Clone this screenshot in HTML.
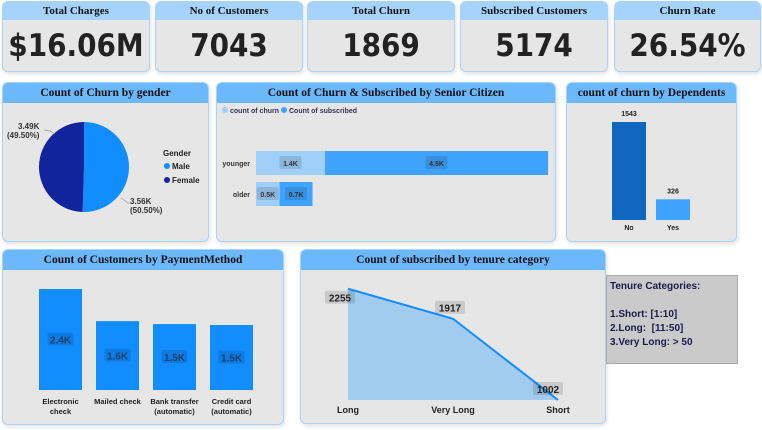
<!DOCTYPE html>
<html><head><meta charset="utf-8"><style>
body{margin:0;width:762px;height:430px;background:#fff;overflow:hidden;font-family:"Liberation Sans",sans-serif}
.card{position:absolute;background:#e6e6e6;border:1px solid #a9d3f9;border-radius:6px;box-sizing:border-box;overflow:hidden;box-shadow:1px 2px 4px rgba(0,0,0,.12)}
.kh{background:#a6d3fb;height:18px;text-align:center;font:bold 11px "Liberation Serif",serif;color:#111;line-height:18px}
.kv{text-align:center;font:bold 31px "DejaVu Sans Condensed","DejaVu Sans",sans-serif;color:#222;line-height:52px}
.ph{background:#6bb8fc;height:20px;text-align:center;font:bold 11.5px "Liberation Serif",serif;color:#111;line-height:20px}
svg text{font-family:"Liberation Sans",sans-serif}
</style></head><body>
<div class="card" style="left:2px;top:1px;width:148px;height:71px"><div class="kh">Total Charges</div><div class="kv">$16.06M</div></div>
<div class="card" style="left:155px;top:1px;width:148px;height:71px"><div class="kh">No of Customers</div><div class="kv">7043</div></div>
<div class="card" style="left:307px;top:1px;width:148px;height:71px"><div class="kh">Total Churn</div><div class="kv">1869</div></div>
<div class="card" style="left:460px;top:1px;width:148px;height:71px"><div class="kh">Subscribed Customers</div><div class="kv">5174</div></div>
<div class="card" style="left:614px;top:1px;width:147px;height:71px"><div class="kh">Churn Rate</div><div class="kv">26.54%</div></div>

<div class="card" style="left:2px;top:82px;width:207px;height:160px"><div class="ph">Count of Churn by gender</div></div>
<div class="card" style="left:216px;top:82px;width:340px;height:160px"><div class="ph">Count of Churn &amp; Subscribed by Senior Citizen</div></div>
<div class="card" style="left:566px;top:82px;width:171px;height:160px"><div class="ph">count of churn by Dependents</div></div>
<div class="card" style="left:2px;top:249px;width:282px;height:176px"><div class="ph">Count of Customers by PaymentMethod</div></div>
<div class="card" style="left:300px;top:249px;width:306px;height:175px"><div class="ph">Count of subscribed by tenure category</div></div>
<div style="position:absolute;left:606px;top:275px;width:132px;height:89px;background:#cacaca;border:1px solid #aaa;box-sizing:border-box;padding:4px 3px;font:bold 10px 'Liberation Sans',sans-serif;color:#1a1a4a;line-height:14px">Tenure Categories:<br><br>1.Short: [1:10]<br>2.Long:&nbsp; [11:50]<br>3.Very Long: &gt; 50</div>

<svg id="s" width="762" height="430" style="position:absolute;left:0;top:0" xmlns="http://www.w3.org/2000/svg"></svg>
<script>
const genderCats=["Male","Female"];
const genderVals=[3560,3490];
const seniorCats=["younger","older"];
const seniorChurn=[1393,476];
const seniorSub=[4508,666];
const depCats=["No","Yes"];
const depVals=[1543,326];
const payCats=[["Electronic","check"],["Mailed check"],["Bank transfer","(automatic)"],["Credit card","(automatic)"]];
const payVals=[2365,1612,1544,1522];
const tenCats=["Long","Very Long","Short"];
const tenVals=[2255,1917,1002];

const s=document.getElementById('s');const NS="http://www.w3.org/2000/svg";
function el(t,a,txt){const e=document.createElementNS(NS,t);for(const k in a)e.setAttribute(k,a[k]);if(txt!==undefined)e.textContent=txt;s.appendChild(e);return e;}
function fk(v){return (v/1000).toFixed(1)+"K";}
function fk2(v){return (v/1000).toFixed(2)+"K";}
function lbl(x,y,t,w){const r=el('rect',{x:x-w/2,y:y-7,width:w,height:13,rx:2,fill:'rgba(0,0,0,0.12)'});return r;}

// pie
const cx=84,cy=167,R=45;const tot=genderVals[0]+genderVals[1];
let a0=-Math.PI/2;const pc=['#118dff','#12239e'];
genderVals.forEach((v,i)=>{const a1=a0+v/tot*2*Math.PI;const lg=(a1-a0)>Math.PI?1:0;
 const p=el('path',{d:`M${cx},${cy}L${cx+R*Math.cos(a0)},${cy+R*Math.sin(a0)}A${R},${R} 0 ${lg} 1 ${cx+R*Math.cos(a1)},${cy+R*Math.sin(a1)}Z`,fill:pc[i]});
 
 
 a0=a1;});
el('polyline',{points:'121,198 128,203 131,203',fill:'none',stroke:'#999','stroke-width':0.7});
el('polyline',{points:'44,130 50,131 55,134',fill:'none',stroke:'#999','stroke-width':0.7});
const pl1=el('text',{x:130,y:204,'font-size':'8','font-weight':'bold',fill:'#333'},fk2(genderVals[0]));


el('text',{x:130,y:213,'font-size':'8','font-weight':'bold',fill:'#333'},'('+(genderVals[0]/tot*100).toFixed(2)+'%)');
const pl2=el('text',{x:18,y:129,'font-size':'8','font-weight':'bold',fill:'#333'},fk2(genderVals[1]));


el('text',{x:7,y:138,'font-size':'8','font-weight':'bold',fill:'#333'},'('+(genderVals[1]/tot*100).toFixed(2)+'%)');
el('text',{x:163,y:156,'font-size':'8','font-weight':'bold',fill:'#222'},'Gender');
genderCats.forEach((c,i)=>{const g=el('circle',{cx:167,cy:166+i*14,r:3,fill:pc[i]});
 
 
 el('text',{x:172,y:169+i*14,'font-size':'8','font-weight':'bold',fill:'#222'},c);});

// senior bars
const sx=v=>v*0.0495;const x0=256;
el('circle',{cx:225,cy:110,r:3,fill:'#a0cffb'});el('text',{x:230,y:113,'font-size':'7','font-weight':'bold',fill:'#335'},'count of churn');
el('circle',{cx:284,cy:110,r:3,fill:'#3fa3fd'});el('text',{x:289,y:113,'font-size':'7','font-weight':'bold',fill:'#335'},'Count of subscribed');
seniorCats.forEach((c,i)=>{const y=151+i*31;
 el('text',{x:250,y:y+15,'font-size':'7','font-weight':'bold',fill:'#333','text-anchor':'end'},c);
 const w1=sx(seniorChurn[i]),w2=sx(seniorSub[i]);
 const b1=el('rect',{x:x0,y:y,width:w1,height:24,fill:'#a0cffb'});
 
 
 const b2=el('rect',{x:x0+w1,y:y,width:w2,height:24,fill:'#3fa3fd'});
 
 
 lbl(x0+w1/2,y+12,'',22);el('text',{x:x0+w1/2,y:y+15,'font-size':'7','font-weight':'bold',fill:'#333','text-anchor':'middle'},fk(seniorChurn[i]));
 lbl(x0+w1+w2/2,y+12,'',22);el('text',{x:x0+w1+w2/2,y:y+15,'font-size':'7','font-weight':'bold',fill:'#333','text-anchor':'middle'},fk(seniorSub[i]));
});

// dependents
const dy=v=>v*98/1543;const dc=['#0f67bf','#3fa3fd'];
depCats.forEach((c,i)=>{const x=612+i*44,h=dy(depVals[i]);
 const b=el('rect',{x:x,y:220-h,width:34,height:h,fill:dc[i]});
 
 
 el('text',{x:x+17,y:220-h-6,'font-size':'7','font-weight':'bold',fill:'#222','text-anchor':'middle'},String(depVals[i]));
 el('text',{x:x+17,y:230,'font-size':'7','font-weight':'bold',fill:'#222','text-anchor':'middle'},c);});

// payment
const py=v=>v*101/2365;
payCats.forEach((c,i)=>{const x=39+i*57,h=py(payVals[i]);
 const b=el('rect',{x:x,y:390-h,width:43,height:h,fill:'#118dff'});
 
 
 lbl(x+21.5,390-h/2,'',26);
 el('text',{x:x+21.5,y:390-h/2+4,'font-size':'10','font-weight':'bold',fill:'#1a3f6a','text-anchor':'middle'},fk(payVals[i]));
 c.forEach((t,j)=>el('text',{x:x+21.5,y:404+j*10,'font-size':'7.5','font-weight':'bold',fill:'#222','text-anchor':'middle'},t));});

// tenure area
const tx=i=>348+i*105, ty=v=>400-(v-1002)*0.0888;
let d=`M${tx(0)},400`;tenVals.forEach((v,i)=>d+=`L${tx(i)},${ty(v)}`);d+=`L${tx(2)},400Z`;
const ar=el('path',{d:d,fill:'#a2cbf0'});


const ln=el('polyline',{points:tenVals.map((v,i)=>tx(i)+','+ty(v)).join(' '),fill:'none',stroke:'#118dff','stroke-width':2});


const off=[[-8,9],[-3,-11],[-10,-11]];
tenVals.forEach((v,i)=>{const lx=tx(i)+off[i][0],ly=ty(v)+off[i][1];
 lbl(lx,ly,'',30);el('text',{x:lx,y:ly+4,'font-size':'10','font-weight':'bold',fill:'#222','text-anchor':'middle'},String(v));
 el('text',{x:tx(i),y:413,'font-size':'9','font-weight':'bold',fill:'#222','text-anchor':'middle'},tenCats[i]);});
</script>
</body></html>
